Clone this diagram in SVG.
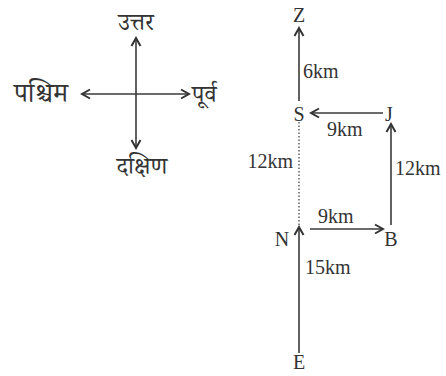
<svg xmlns="http://www.w3.org/2000/svg" width="446" height="376" viewBox="0 0 446 376">
<style>
.ln{stroke:#3a3a3a;stroke-width:1.6;fill:none}
.ar{marker-end:url(#ah)}
.dot{stroke:#555;stroke-width:1.4;stroke-dasharray:1.5 2;fill:none}
.t{font-family:"Liberation Serif","Times New Roman",serif;font-size:20px;fill:#333}
.h{font-family:"Noto Serif Devanagari","Noto Sans Devanagari","Noto Sans",sans-serif;font-size:24px;fill:#333}
</style>
<defs>
<marker id="ah" viewBox="0 0 12 12" refX="10" refY="6" markerWidth="12" markerHeight="12" markerUnits="userSpaceOnUse" orient="auto">
<path d="M2,1.5 L10,6 L2,10.5" fill="none" stroke="#333" stroke-width="2"/>
</marker>
</defs>
<rect width="446" height="376" fill="#fff"/>
<g id="compass">
<line class="ln ar" x1="136" y1="94" x2="136" y2="38"/>
<line class="ln ar" x1="136" y1="94" x2="136" y2="148"/>
<line class="ln ar" x1="136" y1="94" x2="82" y2="94"/>
<line class="ln ar" x1="136" y1="94" x2="189" y2="94"/>
<text class="h" x="136" y="30" text-anchor="middle">उत्तर</text>
<text class="h" x="41" y="102" text-anchor="middle" style="font-size:27px">पश्चिम</text>
<text class="h" x="192" y="102">पूर्व</text>
<text class="h" x="142" y="174" text-anchor="middle">दक्षिण</text>
</g>
<g id="connectors">
<line class="ln ar" x1="299" y1="353" x2="299" y2="227"/>
<line class="dot" x1="299" y1="122" x2="299" y2="226"/>
<line class="ln ar" x1="310" y1="229" x2="383" y2="229"/>
<line class="ln ar" x1="391" y1="225" x2="391" y2="124"/>
<line class="ln ar" x1="383" y1="113" x2="311" y2="113"/>
<line class="ln ar" x1="299" y1="101" x2="299" y2="28"/>
</g>
<g id="Z"><text class="t" x="299" y="22" text-anchor="middle">Z</text></g>
<g id="S"><text class="t" x="299" y="121" text-anchor="middle">S</text></g>
<g id="J"><text class="t" x="389" y="121" text-anchor="middle">J</text></g>
<g id="N"><text class="t" x="282" y="246" text-anchor="middle">N</text></g>
<g id="B"><text class="t" x="391" y="246" text-anchor="middle">B</text></g>
<g id="E"><text class="t" x="299" y="369" text-anchor="middle">E</text></g>
<g id="labels">
<text class="t" x="303" y="78">6km</text>
<text class="t" x="327" y="136">9km</text>
<text class="t" x="293" y="168" text-anchor="end">12km</text>
<text class="t" x="395" y="175">12km</text>
<text class="t" x="318" y="223">9km</text>
<text class="t" x="305" y="274">15km</text>
</g>
</svg>
